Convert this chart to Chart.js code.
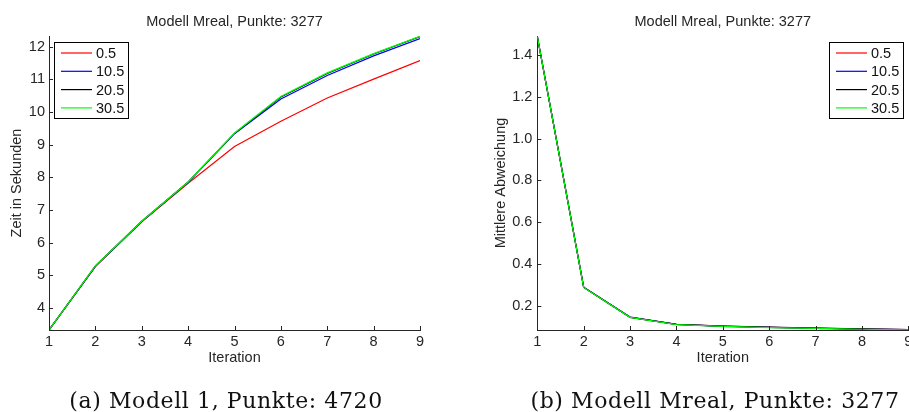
<!DOCTYPE html>
<html>
<head>
<meta charset="utf-8">
<script src="https://cdn.jsdelivr.net/npm/chart.js@4.4.0/dist/chart.umd.min.js"></script>
<style>
  html, body { margin: 0; padding: 0; background: #fff; overflow: hidden; }
  body { width: 909px; height: 412px; position: relative; }
  #c1 { position: absolute; left: 0; top: 0; }
  #c2 { position: absolute; left: 459px; top: 0; }
  .cap {
    position: absolute; top: 390px; white-space: nowrap;
    font-family: "DejaVu Serif", "Liberation Serif", serif; font-size: 22px; color: #111;
    letter-spacing: 0.6px; transform: translateX(-50%); line-height: 22px;
  }
</style>
</head>
<body>
<canvas id="c1" width="450" height="412"></canvas>
<canvas id="c2" width="490" height="412"></canvas>
<div class="cap" style="left:226px">(a) Modell 1, Punkte: 4720</div>
<div class="cap" style="left:715px">(b) Modell Mreal, Punkte: 3277</div>
<script>
// data
const iterations = [1, 2, 3, 4, 5, 6, 7, 8, 9];
const seriesNames = ['0.5', '10.5', '20.5', '30.5'];
const seriesColors = ['#ff0000', '#0000ff', '#000000', '#00ff00'];

// (a) Zeit in Sekunden
const timeTicks = [4, 5, 6, 7, 8, 9, 10, 11, 12];
const timeRed   = [3.33, 5.27, 6.64, 7.82, 8.95, 9.72, 10.43, 11.01, 11.58];
const timeBlue  = [3.33, 5.28, 6.65, 7.85, 9.34, 10.40, 11.12, 11.72, 12.25];
const timeBlack = [3.33, 5.29, 6.66, 7.86, 9.35, 10.46, 11.18, 11.78, 12.31];
const timeGreen = [3.33, 5.29, 6.66, 7.86, 9.36, 10.48, 11.20, 11.79, 12.32];

// (b) Mittlere Abweichung
const devTicks = [0.2, 0.4, 0.6, 0.8, 1, 1.2, 1.4];
const devRed   = [1.488, 0.290, 0.147, 0.112, 0.104, 0.098, 0.094, 0.090, 0.087];
const devBlue  = [1.488, 0.290, 0.147, 0.112, 0.103, 0.098, 0.093, 0.090, 0.087];
const devBlack = [1.488, 0.289, 0.146, 0.112, 0.104, 0.099, 0.094, 0.091, 0.087];
const devGreen = [1.488, 0.289, 0.146, 0.111, 0.103, 0.097, 0.093, 0.089, 0.0865];

const plotTitle = 'Modell Mreal, Punkte: 3277';
const FONT = '"Liberation Sans", Arial, Helvetica, sans-serif';
const INK = '#262626';

Chart.defaults.font.family = FONT;
Chart.defaults.font.size = 14.5;
Chart.defaults.color = INK;

function toPoints(values) {
  return iterations.map((x, i) => ({ x: x, y: values[i] }));
}

function makeDatasets(lists) {
  return lists.map((vals, i) => ({
    label: seriesNames[i],
    data: toPoints(vals),
    borderColor: seriesColors[i],
    borderWidth: 1.2,
    pointRadius: 0,
    tension: 0,
    fill: false,
    order: lists.length - i   // last series drawn on top, like matlab
  }));
}

// matlab style: inward ticks, title over the axes, legend box inside
const matlabAxes = {
  id: 'matlabAxes',
  afterDraw(chart, args, opts) {
    const { ctx, chartArea: a } = chart;
    const xs = chart.scales.x, ys = chart.scales.y;
    ctx.save();
    ctx.strokeStyle = INK;
    ctx.lineWidth = 1;
    ctx.beginPath();
    xs.ticks.forEach(t => {
      const px = Math.round(xs.getPixelForValue(t.value)) + 0.5;
      ctx.moveTo(px, a.bottom);
      ctx.lineTo(px, a.bottom - 4);
    });
    ys.ticks.forEach(t => {
      const py = Math.round(ys.getPixelForValue(t.value)) + 0.5;
      ctx.moveTo(a.left, py);
      ctx.lineTo(a.left + 4, py);
    });
    ctx.stroke();

    // title
    ctx.fillStyle = INK;
    ctx.font = '14.5px ' + FONT;
    ctx.textAlign = 'center';
    ctx.textBaseline = 'alphabetic';
    ctx.fillText(plotTitle, (a.left + a.right) / 2, 26);

    // legend
    const w = 74, h = 76;
    const bx = opts.side === 'left' ? a.left + 5 : a.right - 5.3 - w;
    const by = 42;
    ctx.fillStyle = '#fff';
    ctx.fillRect(bx, by, w, h);
    ctx.strokeStyle = '#000';
    ctx.strokeRect(Math.round(bx) + 0.5, by + 0.5, w, h);
    ctx.textAlign = 'left';
    ctx.textBaseline = 'middle';
    chart.data.datasets.forEach((ds, i) => {
      const ry = by + 11 + i * 18.3;
      ctx.strokeStyle = ds.borderColor;
      ctx.lineWidth = 1.2;
      ctx.beginPath();
      ctx.moveTo(bx + 7, ry);
      ctx.lineTo(bx + 38, ry);
      ctx.stroke();
      ctx.fillStyle = '#111';
      ctx.fillText(ds.label, bx + 42, ry + 1);
    });
    ctx.restore();
  }
};

function makeChart(id, lists, cfg) {
  return new Chart(document.getElementById(id), {
    type: 'line',
    data: { datasets: makeDatasets(lists) },
    plugins: [matlabAxes],
    options: {
      responsive: false,
      animation: false,
      layout: { padding: cfg.padding },
      plugins: {
        legend: { display: false },
        tooltip: { enabled: false },
        matlabAxes: { side: cfg.legendSide }
      },
      scales: {
        x: {
          type: 'linear',
          min: 1,
          max: 9,
          afterBuildTicks: s => { s.ticks = iterations.map(v => ({ value: v })); },
          afterFit: s => { s.height = 36.7; },
          ticks: { padding: 3, color: INK, maxRotation: 0 },
          grid: { display: false, drawTicks: false },
          border: { display: true, color: INK, width: 1 },
          title: { display: true, text: 'Iteration', padding: 0, color: INK }
        },
        y: {
          min: cfg.yMin,
          max: cfg.yMax,
          afterBuildTicks: s => { s.ticks = cfg.yTicks.map(v => ({ value: v })); },
          afterFit: s => { s.width = cfg.yWidth; },
          ticks: { padding: cfg.yPad, color: INK },
          grid: { display: false, drawTicks: false },
          border: { display: true, color: INK, width: 1 },
          title: { display: true, text: cfg.yTitle, padding: 0, color: INK }
        }
      }
    }
  });
}

makeChart('c1', [timeRed, timeBlue, timeBlack, timeGreen], {
  padding: { left: 7.8, right: 30, top: 36, bottom: 45.3 },
  yWidth: 41.2, yPad: 4,
  yMin: 3.33, yMax: 12.33, yTicks: timeTicks,
  yTitle: 'Zeit in Sekunden',
  legendSide: 'left'
});

makeChart('c2', [devRed, devBlue, devBlack, devGreen], {
  padding: { left: 33, right: 40.7, top: 36, bottom: 45.3 },
  yWidth: 45.3, yPad: 5,
  yMin: 0.0855, yMax: 1.49, yTicks: devTicks,
  yTitle: 'Mittlere Abweichung',
  legendSide: 'right'
});
</script>
</body>
</html>
